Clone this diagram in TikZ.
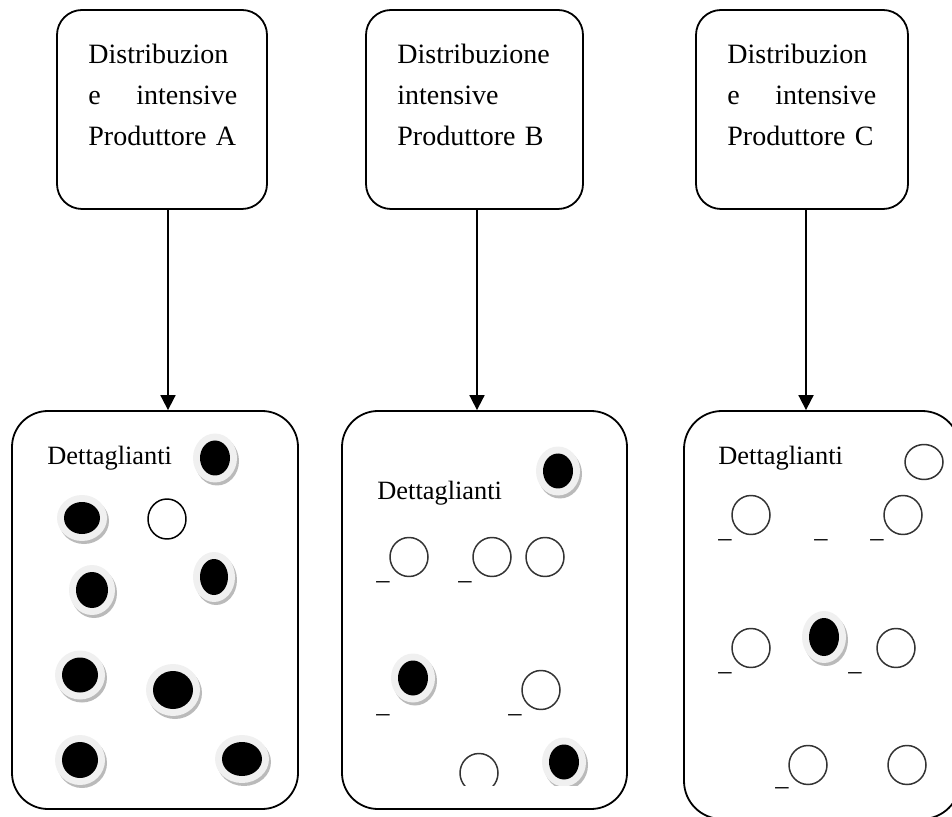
\documentclass[tikz,border=0pt]{standalone}
\usepackage{fontspec}
\setmainfont{Liberation Serif}
\usetikzlibrary{arrows.meta}

\tikzset{
  prodbox/.style={draw, line width=0.9pt, rounded corners=12.5pt, inner sep=0pt},
  shopbox/.style={draw, line width=0.9pt, rounded corners=18pt, inner sep=0pt},
  testo/.style={inner sep=0pt, anchor=north west, text width=74.5pt, align=left,
    font=\fontsize{14}{20.5}\selectfont},
  dett/.style={inner sep=0pt, anchor=base west, font=\fontsize{13.2}{16}\selectfont},
  freccia/.style={line width=0.9pt, -{Triangle[width=7.5pt,length=7.5pt]}},
  vuoto/.style={draw=black!80, line width=0.75pt},
  ombra/.style={fill=black!27},
  alone/.style={fill=black!6},
}
% negozio con il prodotto: ombra, alone chiaro, punto nero
\newcommand\pieno[4]{%
  \fill[ombra] ({#1+2},{#2+3}) ellipse [x radius={#3+7}, y radius={#4+7}];
  \fill[alone] (#1,#2) ellipse [x radius={#3+7}, y radius={#4+7}];
  \fill (#1,#2) ellipse [x radius=#3, y radius=#4];}

\begin{document}
\begin{tikzpicture}[x=0.5pt, y=-0.5pt, line cap=round, line join=round]
  \useasboundingbox (0,0) rectangle (952,817);

  % produttori
  \node[prodbox, minimum width=105pt, minimum height=99.5pt] (prodA) at (162,109.5) {};
  \node[prodbox, minimum width=108.5pt, minimum height=99.5pt] (prodB) at (474.5,109.5) {};
  \node[prodbox, minimum width=106pt, minimum height=99.5pt] (prodC) at (802,109.5) {};
  \node[testo] (tA) at (88,44) {Distribuzion\\ e\hfill intensive\\ Produttore A};
  \node[testo] (tB) at (397,44) {Distribuzione\\ intensive\\ Produttore B};
  \node[testo] (tC) at (727,44) {Distribuzion\\ e\hfill intensive\\ Produttore C};

  % dettaglianti
  \node[shopbox, minimum width=143pt, minimum height=199pt] (detA) at (155,610) {};
  \node[shopbox, minimum width=142.5pt, minimum height=199pt] (detB) at (484.5,610) {};
  \node[shopbox, rounded corners=19pt, minimum width=138pt, minimum height=204pt] (detC) at (822,615) {};
  \node[dett] (dA) at (47,465) {Dettaglianti};
  \node[dett] (dB) at (377,500) {Dettaglianti};
  \node[dett] (dC) at (718,465) {Dettaglianti};

  \draw[freccia] ([xshift=3pt]prodA.south) -- ([xshift=3pt]prodA.south |- detA.north);
  \draw[freccia] ([xshift=1.25pt]prodB.south) -- ([xshift=1.25pt]prodB.south |- detB.north);
  \draw[freccia] ([xshift=2pt]prodC.south) -- ([xshift=2pt]prodC.south |- detC.north);

  % A
  \foreach \x/\y/\a/\b in {215/458/15/17.5, 82/518/18/16, 92/590/16/18, 214/577/14/18,
      80/675/18/17.5, 173/690/20/19, 80/760/18/18, 242/759/20/17}
    {\pieno{\x}{\y}{\a}{\b}}
  \draw[black, line width=0.75pt] (167,519) ellipse [x radius=19, y radius=20];

  % B
  \foreach \x/\y/\a/\b in {558/471/15/17.5, 413/678/15/17.5}
    {\pieno{\x}{\y}{\a}{\b}}
  \foreach \x/\y in {409/557, 492/557, 545/557, 541/690}
    {\draw[vuoto] (\x,\y) ellipse [x radius=19, y radius=19.5];}
  \begin{scope}
    \clip (440,730) rectangle (620,785);
    \pieno{564}{762}{15}{17.5}
    \draw[vuoto] (479,773) ellipse [x radius=19, y radius=19.5];
  \end{scope}
  \foreach \x/\y [count=\i] in {376/579, 458/579, 376/712, 508/712}
    {\node[dett] (uB\i) at (\x,\y) {\_};}

  % C
  \draw[vuoto] (924,462) ellipse [x radius=19, y radius=17.5];
  \foreach \x/\y in {751/515, 903/515, 751/648, 896/648, 808/765, 907/765}
    {\draw[vuoto] (\x,\y) ellipse [x radius=19, y radius=19.5];}
  \pieno{824}{637}{15}{19}
  \foreach \x/\y [count=\i] in {718/537, 814/537, 870/537, 718/670, 848/670, 775/785}
    {\node[dett] (uC\i) at (\x,\y) {\_};}
\end{tikzpicture}
\end{document}
